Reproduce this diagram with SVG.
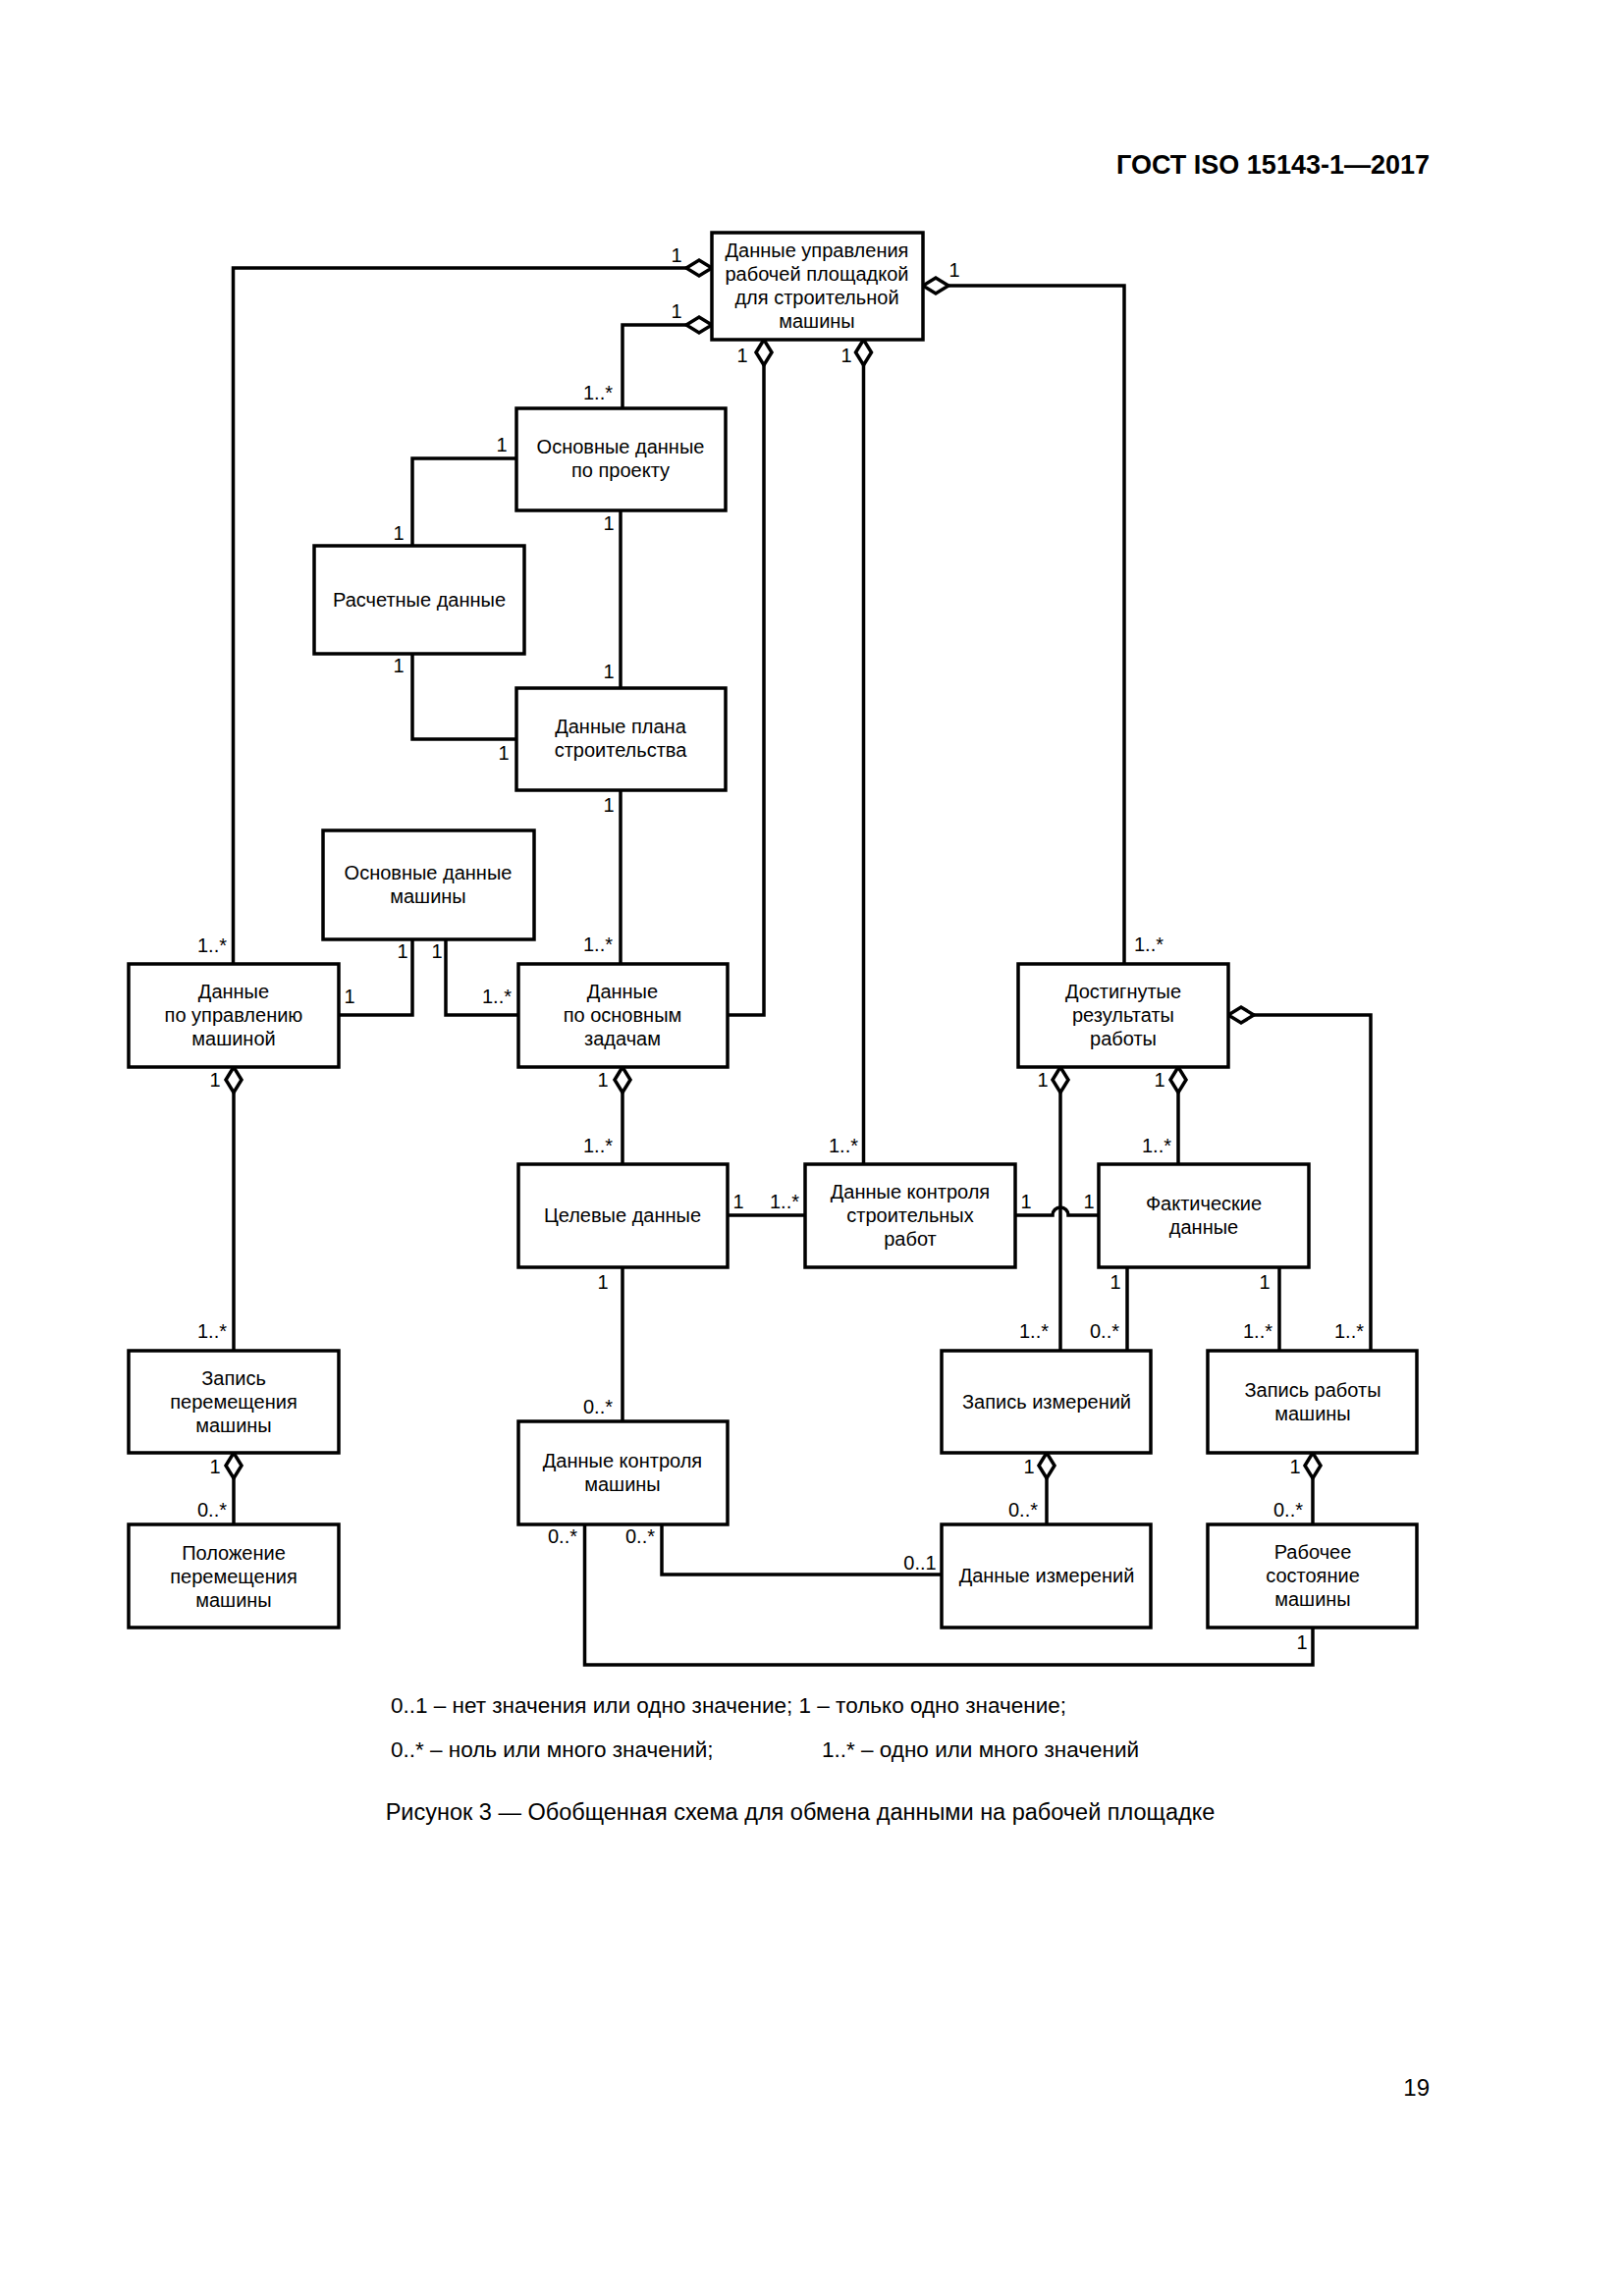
<svg xmlns="http://www.w3.org/2000/svg" width="1654" height="2339" viewBox="0 0 1654 2339">
<style>
.b{fill:#fff;stroke:#000;stroke-width:3.5}
.c{fill:none;stroke:#000;stroke-width:3.5}
text{font-family:"Liberation Sans",Arial,sans-serif;font-size:20px;fill:#000}
.t{text-anchor:middle}
.m{text-anchor:middle;font-size:20px}
</style>
<defs><path id="d" d="M0,0 L-13,-8 L-26,0 L-13,8 Z" fill="#fff" stroke="#000" stroke-width="3.5"/></defs>
<rect width="1654" height="2339" fill="#fff"/>
<text x="1456" y="177" style="font-weight:bold;font-size:27px;text-anchor:end">ГОСТ ISO 15143-1—2017</text>
<g id="connectors">
<path class="c" d="M725,273 H237.5 V982"/>
<path class="c" d="M725,331 H634 V416"/>
<path class="c" d="M778,346 V1034 H741"/>
<path class="c" d="M879.5,346 V1186"/>
<path class="c" d="M940,291 H1145 V982"/>
<path class="c" d="M526,467 H420 V556"/>
<path class="c" d="M420,666 V753 H526"/>
<path class="c" d="M632,520 V701"/>
<path class="c" d="M632,805 V982"/>
<path class="c" d="M420,957 V1034 H345"/>
<path class="c" d="M454,957 V1034 H528"/>
<path class="c" d="M238,1087 V1376"/>
<path class="c" d="M238,1480 V1553"/>
<path class="c" d="M634,1087 V1186"/>
<path class="c" d="M741,1238 H820"/>
<path class="c" d="M1034,1238 H1072 A8,8 0 0 1 1088,1238 H1119"/>
<path class="c" d="M1080,1087 V1376"/>
<path class="c" d="M1200,1087 V1186"/>
<path class="c" d="M1251,1034 H1396 V1376"/>
<path class="c" d="M1148,1291 V1376"/>
<path class="c" d="M1303,1291 V1376"/>
<path class="c" d="M634,1291 V1448"/>
<path class="c" d="M1066,1480 V1553"/>
<path class="c" d="M1337,1480 V1553"/>
<path class="c" d="M595.5,1553 V1696 H1337 V1658"/>
<path class="c" d="M674,1553 V1604 H959"/>
<use href="#d" transform="translate(725,273)"/>
<use href="#d" transform="translate(725,331)"/>
<use href="#d" transform="translate(778,346) rotate(-90)"/>
<use href="#d" transform="translate(879.5,346) rotate(-90)"/>
<use href="#d" transform="translate(940,291) rotate(180)"/>
<use href="#d" transform="translate(238,1087) rotate(-90)"/>
<use href="#d" transform="translate(238,1480) rotate(-90)"/>
<use href="#d" transform="translate(634,1087) rotate(-90)"/>
<use href="#d" transform="translate(1080,1087) rotate(-90)"/>
<use href="#d" transform="translate(1200,1087) rotate(-90)"/>
<use href="#d" transform="translate(1251,1034) rotate(180)"/>
<use href="#d" transform="translate(1066,1480) rotate(-90)"/>
<use href="#d" transform="translate(1337,1480) rotate(-90)"/>
</g>
<g id="labels" class="m">
<text x="689" y="267">1</text><text x="689" y="324">1</text><text x="756" y="369">1</text><text x="862" y="369">1</text><text x="972" y="282">1</text>
<text x="609" y="407">1..*</text><text x="511" y="460">1</text><text x="406" y="550">1</text><text x="620" y="540">1</text>
<text x="406" y="685">1</text><text x="620" y="691">1</text><text x="513" y="774">1</text><text x="620" y="827">1</text>
<text x="216" y="970">1..*</text><text x="410" y="976">1</text><text x="445" y="976">1</text><text x="609" y="969">1..*</text><text x="1170" y="969">1..*</text>
<text x="356" y="1022">1</text><text x="506" y="1022">1..*</text>
<text x="219" y="1107">1</text><text x="614" y="1107">1</text><text x="1062" y="1107">1</text><text x="1181" y="1107">1</text>
<text x="609" y="1174">1..*</text><text x="859" y="1174">1..*</text><text x="1178" y="1174">1..*</text>
<text x="752" y="1231">1</text><text x="799" y="1231">1..*</text><text x="1045" y="1231">1</text><text x="1109" y="1231">1</text>
<text x="614" y="1313">1</text><text x="1136" y="1313">1</text><text x="1288" y="1313">1</text>
<text x="216" y="1363">1..*</text><text x="1053" y="1363">1..*</text><text x="1125" y="1363">0..*</text><text x="1281" y="1363">1..*</text><text x="1374" y="1363">1..*</text>
<text x="609" y="1440">0..*</text>
<text x="219" y="1501">1</text><text x="1048" y="1501">1</text><text x="1319" y="1501">1</text>
<text x="216" y="1545">0..*</text><text x="1042" y="1545">0..*</text><text x="1312" y="1545">0..*</text>
<text x="573" y="1572">0..*</text><text x="652" y="1572">0..*</text><text x="937" y="1599">0..1</text><text x="1326" y="1680">1</text>
</g>
<g id="n1"><rect class="b" x="725" y="237" width="215" height="109"/><text class="t" x="832" y="262">Данные управления</text><text class="t" x="832" y="286">рабочей площадкой</text><text class="t" x="832" y="310">для строительной</text><text class="t" x="832" y="334">машины</text></g>
<g id="n2"><rect class="b" x="526" y="416" width="213" height="104"/><text class="t" x="632" y="462">Основные данные</text><text class="t" x="632" y="486">по проекту</text></g>
<g id="n3"><rect class="b" x="320" y="556" width="214" height="110"/><text class="t" x="427" y="618">Расчетные данные</text></g>
<g id="n4"><rect class="b" x="526" y="701" width="213" height="104"/><text class="t" x="632" y="747">Данные плана</text><text class="t" x="632" y="771">строительства</text></g>
<g id="n5"><rect class="b" x="329" y="846" width="215" height="111"/><text class="t" x="436" y="896">Основные данные</text><text class="t" x="436" y="920">машины</text></g>
<g id="n6"><rect class="b" x="131" y="982" width="214" height="105"/><text class="t" x="238" y="1017">Данные</text><text class="t" x="238" y="1041">по управлению</text><text class="t" x="238" y="1065">машиной</text></g>
<g id="n7"><rect class="b" x="528" y="982" width="213" height="105"/><text class="t" x="634" y="1017">Данные</text><text class="t" x="634" y="1041">по основным</text><text class="t" x="634" y="1065">задачам</text></g>
<g id="n8"><rect class="b" x="1037" y="982" width="214" height="105"/><text class="t" x="1144" y="1017">Достигнутые</text><text class="t" x="1144" y="1041">результаты</text><text class="t" x="1144" y="1065">работы</text></g>
<g id="n9"><rect class="b" x="528" y="1186" width="213" height="105"/><text class="t" x="634" y="1245">Целевые данные</text></g>
<g id="n10"><rect class="b" x="820" y="1186" width="214" height="105"/><text class="t" x="927" y="1221">Данные контроля</text><text class="t" x="927" y="1245">строительных</text><text class="t" x="927" y="1269">работ</text></g>
<g id="n11"><rect class="b" x="1119" y="1186" width="214" height="105"/><text class="t" x="1226" y="1233">Фактические</text><text class="t" x="1226" y="1257">данные</text></g>
<g id="n12"><rect class="b" x="131" y="1376" width="214" height="104"/><text class="t" x="238" y="1411">Запись</text><text class="t" x="238" y="1435">перемещения</text><text class="t" x="238" y="1459">машины</text></g>
<g id="n13"><rect class="b" x="959" y="1376" width="213" height="104"/><text class="t" x="1066" y="1435">Запись измерений</text></g>
<g id="n14"><rect class="b" x="1230" y="1376" width="213" height="104"/><text class="t" x="1337" y="1423">Запись работы</text><text class="t" x="1337" y="1447">машины</text></g>
<g id="n15"><rect class="b" x="528" y="1448" width="213" height="105"/><text class="t" x="634" y="1495">Данные контроля</text><text class="t" x="634" y="1519">машины</text></g>
<g id="n16"><rect class="b" x="131" y="1553" width="214" height="105"/><text class="t" x="238" y="1589">Положение</text><text class="t" x="238" y="1613">перемещения</text><text class="t" x="238" y="1637">машины</text></g>
<g id="n17"><rect class="b" x="959" y="1553" width="213" height="105"/><text class="t" x="1066" y="1612">Данные измерений</text></g>
<g id="n18"><rect class="b" x="1230" y="1553" width="213" height="105"/><text class="t" x="1337" y="1588">Рабочее</text><text class="t" x="1337" y="1612">состояние</text><text class="t" x="1337" y="1636">машины</text></g>
<text x="398" y="1745" style="font-size:22.5px">0..1 – нет значения или одно значение; 1 – только одно значение;</text>
<text x="398" y="1790" style="font-size:22.5px">0..* – ноль или много значений;</text>
<text x="837" y="1790" style="font-size:22.5px">1..* – одно или много значений</text>
<text x="815" y="1854" style="font-size:23.5px;text-anchor:middle">Рисунок 3 — Обобщенная схема для обмена данными на рабочей площадке</text>
<text x="1456" y="2135" style="font-size:24px;text-anchor:end">19</text>
</svg>
